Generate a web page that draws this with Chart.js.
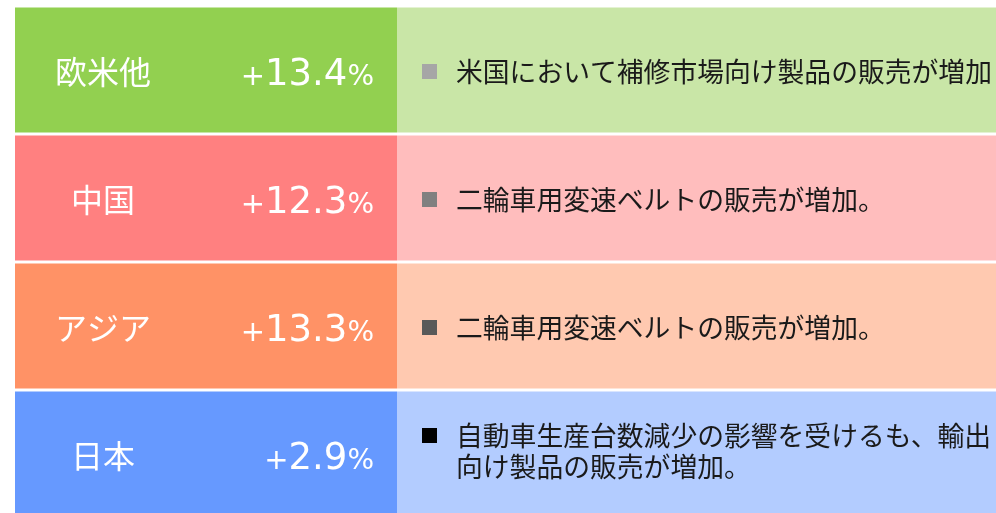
<!DOCTYPE html>
<html>
<head>
<meta charset="utf-8">
<script src="https://cdn.jsdelivr.net/npm/chart.js@4"></script>
<style>
  html, body { margin: 0; padding: 0; background: #fff; overflow: hidden; }
  .wrap { position: relative; width: 996px; height: 518px; }
</style>
</head>
<body>
<div class="wrap"><canvas id="chart"></canvas></div>
<script>
// regions and their growth rates (%)
const regions = ['欧米他', '中国', 'アジア', '日本'];
const growth = [13.4, 12.3, 13.3, 2.9];
// comment lines for each region
const notes = [
    ['米国において補修市場向け製品の販売が増加'],
    ['二輪車用変速ベルトの販売が増加。'],
    ['二輪車用変速ベルトの販売が増加。'],
    ['自動車生産台数減少の影響を受けるも、輸出', '向け製品の販売が増加。']
];

// styles
const darkColors = ['#92D050', '#FF8080', '#FF9266', '#6699FF'];
const lightColors = ['#C9E6A7', '#FFBDBD', '#FFC9B0', '#B3CCFF'];
const bulletColors = ['#A6A6A6', '#808080', '#595959', '#000000'];
const SPLIT = 0.3894; // where the left cell ends, as a share of the row

const cjk = '"Noto Sans CJK JP", "Noto Sans", sans-serif';
const latin = '"DejaVu Sans", Verdana, sans-serif';

const textPlugin = {
    id: 'cellText',
    afterDatasetsDraw(chart) {
        const ctx = chart.ctx;
        const left = chart.getDatasetMeta(0).data;
        const right = chart.getDatasetMeta(1).data;
        ctx.save();
        for (let i = 0; i < regions.length; i++) {
            const l = left[i];
            const r = right[i];
            const y = l.y;

            // region name
            ctx.fillStyle = '#fff';
            ctx.font = '32px ' + cjk;
            ctx.textAlign = 'center';
            ctx.textBaseline = 'middle';
            ctx.fillText(regions[i], l.base + 88, y + 2);

            // growth value, "+" and "%" smaller than the digits
            const parts = [
                { t: '+', f: '29px ' + latin },
                { t: growth[i].toFixed(1), f: '37px ' + latin },
                { t: '%', f: '28px ' + latin }
            ];
            let total = 0;
            parts.forEach(p => { ctx.font = p.f; p.w = ctx.measureText(p.t).width; total += p.w; });
            let x = l.x - 23 - total;
            ctx.textAlign = 'left';
            ctx.textBaseline = 'alphabetic';
            parts.forEach(p => { ctx.font = p.f; ctx.fillText(p.t, x, y + 15); x += p.w; });

            // bullet + comment
            const lines = notes[i];
            const lh = 31;
            const y0 = y + 2 - (lines.length - 1) * 20;
            ctx.fillStyle = bulletColors[i];
            ctx.fillRect(r.base + 25, y0 - 8, 15, 15);
            ctx.fillStyle = '#1a1a1a';
            ctx.font = '26.8px ' + cjk;
            ctx.textBaseline = 'middle';
            lines.forEach((line, k) => {
                ctx.fillText(line, r.base + 59, y0 + k * lh);
            });
        }
        ctx.restore();
    }
};

new Chart(document.getElementById('chart'), {
    type: 'bar',
    data: {
        labels: regions,
        datasets: [{
            data: growth.map(() => [0, SPLIT]),
            backgroundColor: darkColors,
            borderWidth: 0
        }, {
            data: growth.map(() => [SPLIT, 1]),
            backgroundColor: lightColors,
            borderWidth: 0
        }]
    },
    options: {
        indexAxis: 'y',
        responsive: true,
        maintainAspectRatio: false,
        animation: false,
        layout: { padding: { left: 15, top: 6, right: 0, bottom: 0 } },
        datasets: {
            bar: { grouped: false, categoryPercentage: 1, barPercentage: 0.977 }
        },
        scales: {
            x: { display: false, min: 0, max: 1 },
            y: { display: false }
        },
        plugins: {
            legend: { display: false },
            tooltip: { enabled: false }
        }
    },
    plugins: [textPlugin]
});
</script>
</body>
</html>
